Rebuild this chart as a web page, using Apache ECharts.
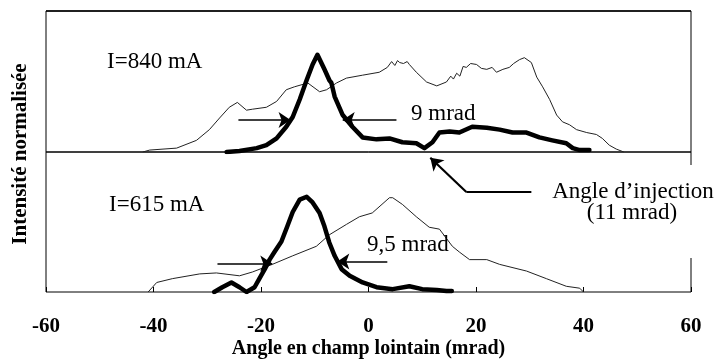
<!DOCTYPE html>
<html>
<head>
<meta charset="utf-8">
<script src="https://cdn.jsdelivr.net/npm/echarts@6/dist/echarts.min.js"></script>
<style>
  html, body { margin: 0; padding: 0; background: #fff; }
  #chart { width: 720px; height: 360px; }
</style>
</head>
<body>
<div id="chart"></div>
<script>
// Far-field angular profiles (mrad) at two beam currents, normalised intensity (thick peak = 100)

// I = 840 mA
const x840Thin = [-42, -40.7, -35.7, -32.0, -29.6, -27.7, -25.9, -24.4, -22.7, -21.6, -19.0, -17.1, -15.3, -13.8, -11.3, -9.1, -7.8, -5.95, -4.1, -1.1, 2.0, 3.5, 4.3, 4.9, 5.4, 5.8, 6.5, 7.2, 7.6, 8.9, 10.8, 12.7, 14.5, 15.3, 15.8, 16.4, 17.0, 17.6, 18.2, 19.0, 20.1, 21.0, 22.0, 23.0, 23.8, 25.0, 26.2, 27.0, 28.1, 29.0, 30.3, 31.3, 32.4, 33.7, 35.0, 36.1, 37.4, 38.7, 40.6, 42.4, 43.5, 44.8, 46.1, 47.5];
const y840Thin = [0, 2, 4, 12, 23, 35, 46, 51, 43, 44, 46, 52, 64, 67, 71, 62, 64, 71, 76, 79, 82, 87, 93, 89, 94, 92, 91, 93, 90, 82, 72, 68, 72, 78, 75, 81, 78, 88, 87, 91, 90, 86, 85, 87, 82, 85, 87, 91, 95, 97, 92, 77, 67, 54, 38, 31, 28, 23, 20, 18, 14, 7, 3, 0];

const x840Thick = [-26.4, -24.0, -20.8, -19.0, -17.1, -15.3, -14.1, -12.8, -11.5, -10.4, -9.5, -8.2, -7.3, -6.9, -6.3, -4.8, -3.0, -1.1, 1.5, 3.9, 6.3, 8.9, 10.4, 11.9, 13.2, 15.1, 16.9, 19.3, 22.0, 24.4, 26.8, 29.4, 31.8, 34.2, 36.8, 38.0, 39.3, 41.1];
const y840Thick = [0, 1, 4, 7, 14, 26, 36, 54, 74, 90, 100, 85, 74, 71, 57, 38, 26, 15, 13, 14, 10, 9, 4, 10, 20, 21, 20, 26, 25, 23, 20, 20, 15, 12, 9, 4, 2, 2];

// I = 615 mA
const x615Thin = [-41, -39.4, -36.5, -31.4, -28.3, -24.0, -21.6, -17.9, -14.1, -9.7, -7.3, -4.1, -1.7, 0.7, 3.9, 4.5, 6.3, 8.9, 11.3, 13.2, 15.6, 16.9, 18.8, 22.0, 24.4, 29.4, 33.1, 36.8, 39.3, 40.0];
const y615Thin = [0, 10, 14, 19, 20, 17, 21, 29, 38, 48, 60, 71, 79, 83, 99, 99, 92, 79, 68, 66, 48, 42, 34, 34, 29, 22, 14, 6, 4, 0];

const x615Thick = [-28.7, -27.2, -25.5, -24.0, -22.7, -21.2, -20.3, -19.3, -18.4, -17.5, -16.2, -15.1, -14.1, -12.8, -11.5, -10.4, -9.1, -8.2, -7.3, -6.3, -5.0, -3.5, -1.1, 1.5, 4.5, 7.6, 10.0, 12.7, 14.5, 15.5];
const y615Thick = [0, 5, 10, 5, 0, 5, 14, 24, 34, 42, 53, 69, 84, 97, 100, 94, 83, 69, 52, 38, 24, 17, 10, 5, 3, 6, 3, 2, 1, 1];

// FWHM arrows: [xFrom, xTo, level]
const fwhm840 = [[-24.2, -14.5, 33], [5.2, -4.8, 33]];
const fwhm615 = [[-28.1, -17.9, 30], [3.5, -5.8, 32]];
// Injection-angle pointer (polyline ending with arrowhead)
const injPath = [[30.3, 105], [18.2, 105], [11.5, 141]];

const xTicks = [-60, -40, -20, 0, 20, 40, 60];

const zip = (xs, ys) => xs.map((x, i) => [x, ys[i]]);

const SERIF = "'Liberation Serif', 'Times New Roman', serif";
const INK = '#000';

function arrowLines(list) {
  return list.map(([a, b, y]) => [{ coord: [a, y] }, { coord: [b, y] }]);
}

const arrowMark = (data, width) => ({
  silent: true,
  symbol: ['none', 'arrow'],
  symbolSize: 12,
  label: { show: false },
  lineStyle: { color: INK, width: width || 1.6, type: 'solid' },
  emphasis: { disabled: true },
  data
});

const chart = echarts.init(document.getElementById('chart'), null, { renderer: 'canvas' });

const baseX = {
  type: 'value', min: xTicks[0], max: xTicks[xTicks.length - 1], interval: 20,
  splitLine: { show: false }, axisLine: { show: false }
};

const option = {
  animation: false,
  backgroundColor: '#fff',
  grid: [
    { left: 46, right: 29, top: 11, height: 141, show: true, borderColor: INK, borderWidth: 1, backgroundColor: 'transparent' },
    { left: 46, right: 29, top: 152, height: 141, show: true, borderColor: INK, borderWidth: 1, backgroundColor: 'transparent' }
  ],
  xAxis: [
    Object.assign({}, baseX, { gridIndex: 0, axisTick: { show: false }, axisLabel: { show: false } }),
    Object.assign({}, baseX, {
      gridIndex: 1,
      axisTick: { show: true, inside: true, length: 5, lineStyle: { color: INK, width: 1 } },
      axisLabel: {
        color: '#000', fontFamily: SERIF, fontWeight: 'bold', fontSize: 21, margin: 24,
        formatter: (v) => xTicks.includes(v) ? String(v) : ''
      },
      name: 'Angle en champ lointain (mrad)',
      nameLocation: 'middle',
      nameGap: 47,
      nameTextStyle: { color: '#000', fontFamily: SERIF, fontWeight: 'bold', fontSize: 20 }
    })
  ],
  yAxis: [
    { type: 'value', gridIndex: 0, min: 0, max: 145, show: false },
    { type: 'value', gridIndex: 1, min: 0, max: 147, show: false }
  ],
  series: [
    {
      type: 'line', xAxisIndex: 0, yAxisIndex: 0, data: zip(x840Thin, y840Thin),
      showSymbol: false, lineStyle: { color: '#222', width: 1 }, silent: true
    },
    {
      type: 'line', xAxisIndex: 0, yAxisIndex: 0, data: zip(x840Thick, y840Thick),
      showSymbol: false, lineStyle: { color: '#000', width: 4.5, join: 'round', cap: 'round' }, silent: true,
      markLine: arrowMark(arrowLines(fwhm840))
    },
    {
      type: 'line', xAxisIndex: 1, yAxisIndex: 1, data: zip(x615Thin, y615Thin),
      showSymbol: false, lineStyle: { color: '#222', width: 1 }, silent: true,
      markLine: arrowMark([
        [{ coord: injPath[0], symbol: 'none' }, { coord: injPath[1], symbol: 'none' }],
        [{ coord: injPath[1] }, { coord: injPath[2] }]
      ], 2.2)
    },
    {
      type: 'line', xAxisIndex: 1, yAxisIndex: 1, data: zip(x615Thick, y615Thick),
      showSymbol: false, lineStyle: { color: '#000', width: 4.5, join: 'round', cap: 'round' }, silent: true,
      markLine: arrowMark(arrowLines(fwhm615))
    }
  ],
  graphic: [
    // frame top edge
    { type: 'line', shape: { x1: 46, y1: 11, x2: 691, y2: 11 }, style: { stroke: '#000', lineWidth: 1.5 }, z: 90, silent: true },
    // the right frame edge is interrupted behind the injection label
    { type: 'rect', shape: { x: 686, y: 165, width: 10, height: 93 }, style: { fill: '#fff' }, z: 100, silent: true },
    {
      type: 'text', x: 21, y: 154, rotation: Math.PI / 2, z: 100, silent: true,
      style: { text: 'Intensité normalisée', font: "bold 21px " + SERIF, fill: '#000', align: 'center', verticalAlign: 'middle' }
    },
    {
      type: 'text', x: 107, y: 62, z: 100, silent: true,
      style: { text: 'I=840 mA', font: "23px " + SERIF, fill: '#000', align: 'left', verticalAlign: 'middle' }
    },
    {
      type: 'text', x: 109, y: 205, z: 100, silent: true,
      style: { text: 'I=615 mA', font: "23px " + SERIF, fill: '#000', align: 'left', verticalAlign: 'middle' }
    },
    {
      type: 'text', x: 411, y: 114, z: 100, silent: true,
      style: { text: '9 mrad', font: "23px " + SERIF, fill: '#000', align: 'left', verticalAlign: 'middle' }
    },
    {
      type: 'text', x: 367, y: 245, z: 100, silent: true,
      style: { text: '9,5 mrad', font: "23px " + SERIF, fill: '#000', align: 'left', verticalAlign: 'middle' }
    },
    {
      type: 'text', x: 633, y: 192, z: 100, silent: true,
      style: { text: 'Angle d\u2019injection', font: "23px " + SERIF, fill: '#000', align: 'center', verticalAlign: 'middle' }
    },
    {
      type: 'text', x: 632, y: 213, z: 100, silent: true,
      style: { text: '(11 mrad)', font: "23px " + SERIF, fill: '#000', align: 'center', verticalAlign: 'middle' }
    }
  ]
};

chart.setOption(option);
</script>
</body>
</html>
